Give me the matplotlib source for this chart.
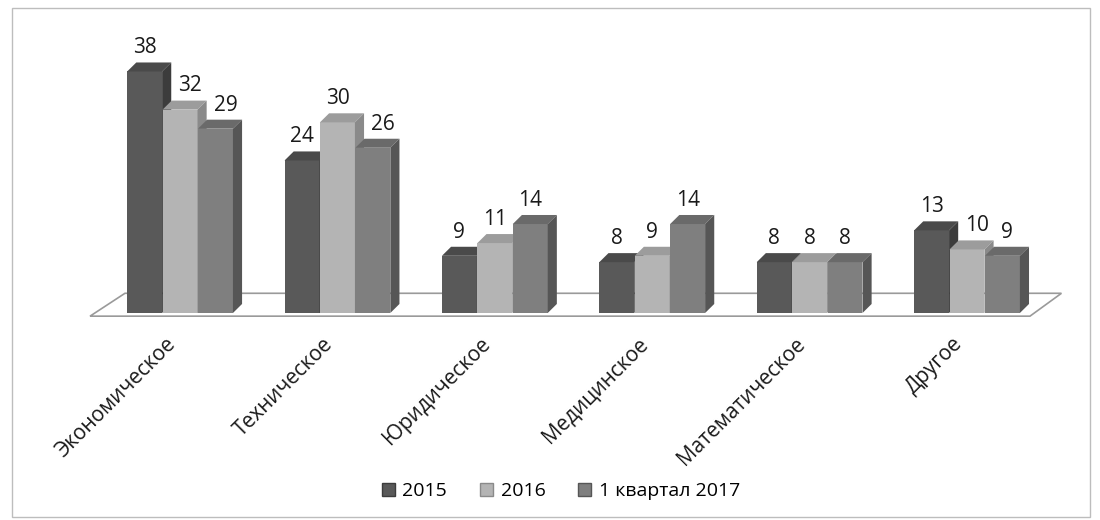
import matplotlib.pyplot as plt
from matplotlib.patches import Polygon, Patch, Rectangle
from matplotlib.transforms import ScaledTranslation

plt.rcParams["font.family"] = ["Open Sans", "DejaVu Sans"]

categories = ["Экономическое", "Техническое", "Юридическое", "Медицинское",
              "Математическое", "Другое"]
series_names = ["2015", "2016", "1 квартал 2017"]
v2015 = [38, 24, 9, 8, 8, 13]
v2016 = [32, 30, 11, 9, 8, 10]
v2017 = [29, 26, 14, 14, 8, 9]

values = [v2015, v2016, v2017]
front = ["#595959", "#b4b4b4", "#7f7f7f"]
top = ["#4a4a4a", "#9c9c9c", "#6a6a6a"]
side = ["#3c3c3c", "#8a8a8a", "#565656"]

fig = plt.figure(figsize=(11, 5.2), dpi=100)
fig.patches.append(Rectangle((12 / 1100, 3 / 520), 1078 / 1100, 509 / 520,
                             transform=fig.transFigure, fill=False,
                             edgecolor="#bdbdbd", lw=1))

ax = fig.add_axes([0, 0.375, 1, 0.5865])
ax.set_xlim(-1.144, 5.845)
ax.set_ylim(-1.89, 46.1)
for s in ax.spines.values():
    s.set_visible(False)
ax.set_yticks([])

w = 0.222
off = 0.225
dx = 0.058
dy = 1.42

# floor
ax.add_patch(Polygon([(-0.572, -0.5), (5.40, -0.5), (5.60, 3.1), (-0.35, 3.1)],
                     closed=True, facecolor="white", edgecolor="#9a9a9a",
                     lw=1.2, zorder=1))

labels = {}
corners = {}
for j, vals in enumerate(values):
    xs = [i + (j - 1) * off for i in range(len(categories))]
    bars = ax.bar(xs, vals, width=w, color=front[j], edgecolor="none")
    for i, (b, v) in enumerate(zip(bars, vals)):
        z = 3 + i * 4 + j
        b.set_zorder(z)
        x0 = b.get_x()
        ax.add_patch(Polygon([(x0, v), (x0 + dx, v + dy), (x0 + w + dx, v + dy),
                              (x0 + w, v)], closed=True, facecolor=top[j],
                             edgecolor="none", zorder=z))
        ax.add_patch(Polygon([(x0 + w, 0), (x0 + w, v), (x0 + w + dx, v + dy),
                              (x0 + w + dx, dy)], closed=True, facecolor=side[j],
                             edgecolor="none", zorder=z))
        labels[i, j] = ax.annotate(str(v), (x0 + w / 2, v + dy), xytext=(0, 3),
                                   textcoords="offset points", ha="center",
                                   va="bottom", fontsize=15, color="#1a1a1a")
        corners[i, j] = (x0 + w + dx, v + dy)

ax.set_xticks(range(len(categories)))
ax.set_xticklabels(categories, rotation=45, ha="right", va="top",
                   rotation_mode="anchor", fontsize=15, color="#1a1a1a")
ax.tick_params(axis="x", length=0, pad=6)
shift = ScaledTranslation(-15 / 100, 0, fig.dpi_scale_trans)
for lbl in ax.get_xticklabels():
    lbl.set_transform(lbl.get_transform() + shift)

# push value labels right when they run into the taller bar beside them
fig.canvas.draw()
r = fig.canvas.get_renderer()
for (i, j), t in labels.items():
    if j == 0:
        continue
    bb = t.get_window_extent(r)
    px, py = ax.transData.transform(corners[i, j - 1])
    if py > bb.y0 and px + 7 > bb.x0:
        t.xyann = ((px + 7 - bb.x0) * 72 / fig.dpi, 3)

handles = [Patch(facecolor=front[k], edgecolor=side[k]) for k in range(3)]
fig.legend(handles, series_names, loc="center", bbox_to_anchor=(0.51, 0.056),
           ncol=3, frameon=False, fontsize=14, handlelength=0.65,
           handleheight=0.65, handletextpad=0.4, columnspacing=1.7)

fig.savefig("out.png", dpi=100)
